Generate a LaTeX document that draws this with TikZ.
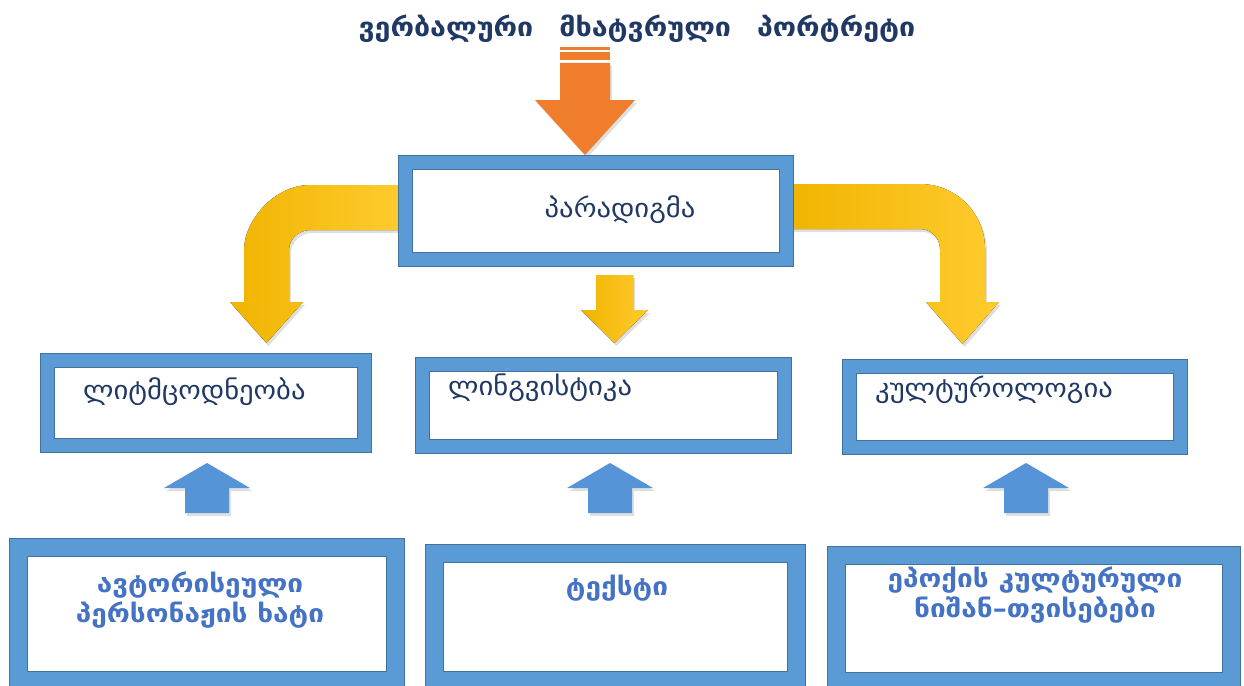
\documentclass[tikz,border=0pt]{standalone}
\usepackage{fontspec}
\setmainfont{DejaVu Sans}
\newfontfamily\geofont[FakeStretch=1.1]{DejaVu Sans}
\newfontfamily\geowide[FakeStretch=1.12]{DejaVu Sans}
\usetikzlibrary{shadows,calc}

\definecolor{boxblue}{HTML}{5B9BD5}
\definecolor{edgeblue}{HTML}{41719C}
\definecolor{navy}{HTML}{1F3864}
\definecolor{txtblue}{HTML}{4472C4}
\definecolor{orangearr}{HTML}{F07D2C}
\definecolor{goldl}{HTML}{F0B400}
\definecolor{goldr}{HTML}{FFCB2E}
\definecolor{bluearr}{HTML}{5694D8}

\begin{document}
\begin{tikzpicture}[x=1pt,y=-1pt,
  frame/.style={draw=edgeblue,line width=1pt,double=boxblue,double distance=13pt,fill=white,inner sep=0pt},
  wideframe/.style={frame,double distance=17pt},
  head/.style={font=\geofont\bfseries\fontsize{26}{30}\selectfont,text=navy,anchor=base,inner sep=0pt},
  mid/.style={font=\geofont\fontsize{26}{30}\selectfont,text=navy,anchor=west,inner sep=0pt},
  low/.style={font=\geowide\bfseries\fontsize{25}{30}\selectfont,text=txtblue,align=center,inner sep=0pt},
  shade/.style={drop shadow={opacity=0.25,shadow xshift=2pt,shadow yshift=-3pt}},
  goldarr/.style={shade,left color=goldl,right color=goldr,draw=none},
  uparr/.style={shade,fill=bluearr,draw=none}]
\useasboundingbox (0,0) rectangle (1244,685);
\clip (0,0) rectangle (1244,685);

% title and orange arrow
\node[head] (title) at (637,37) {ვერბალური\quad მხატვრული\quad პორტრეტი};
\fill[orangearr] (560,47) rectangle (610,50);
\fill[orangearr] (560,52) rectangle (610,60);
\fill[shade,orangearr] (560,63) -- (610,63) -- (610,100) -- (635,100) -- (585,155)
  -- (535,100) -- (560,100) -- cycle;

% yellow arrows
\fill[goldarr] (400,185) -- (310,185) .. controls (274,185) and (244,221) .. (244,250)
  -- (244,302) -- (230,302) -- (266.5,343) -- (303,302) -- (289,302) -- (289,250)
  .. controls (289,239) and (299,230) .. (310,230) -- (400,230) -- cycle;
\fill[goldarr] (785,184) -- (920,184) .. controls (956,184) and (985,213) .. (985,249)
  -- (985,302) -- (999,302) -- (962.5,344) -- (926,302) -- (940,302) -- (940,249)
  .. controls (940,238) and (931,229) .. (920,229) -- (785,229) -- cycle;
\fill[goldarr] (596,275) -- (633,275) -- (633,310) -- (648,310) -- (614.5,343)
  -- (581,310) -- (596,310) -- cycle;

% boxes
\node[frame,minimum width=381pt,minimum height=97pt] (par) at (596,211) {};
\node[frame,minimum width=317pt,minimum height=85pt] (lit) at (206,403) {};
\node[frame,minimum width=362pt,minimum height=82pt] (ling) at (603,405.5) {};
\node[frame,minimum width=331pt,minimum height=81pt] (kult) at (1015,407) {};
\node[wideframe,minimum width=377pt,minimum height=133pt] (avt) at (206.5,614) {};
\node[wideframe,minimum width=362pt,minimum height=127pt] (teq) at (615,616.5) {};
\node[wideframe,minimum width=395pt,minimum height=126pt] (epq) at (1034,618) {};

% texts
\node[mid,anchor=center] (partxt) at (620,210) {პარადიგმა};
\node[mid] (littxt) at (83,392) {ლიტმცოდნეობა};
\node[mid] (lingtxt) at (448,388) {ლინგვისტიკა};
\node[mid] (kulttxt) at (875,390) {კულტუროლოგია};
\node[low] (avttxt) at (200,600) {ავტორისეული\\პერსონაჟის ხატი};
\node[low] (teqtxt) at (617,588) {ტექსტი};
\node[low] (epqtxt) at (1035,595) {ეპოქის კულტურული\\ნიშან–თვისებები};

% blue arrows
\foreach \cx in {207,610,1026}
  \fill[uparr] (\cx-22,513) -- (\cx+22,513) -- (\cx+22,488) -- (\cx+43,488) -- (\cx,463)
    -- (\cx-43,488) -- (\cx-22,488) -- cycle;
\end{tikzpicture}
\end{document}
